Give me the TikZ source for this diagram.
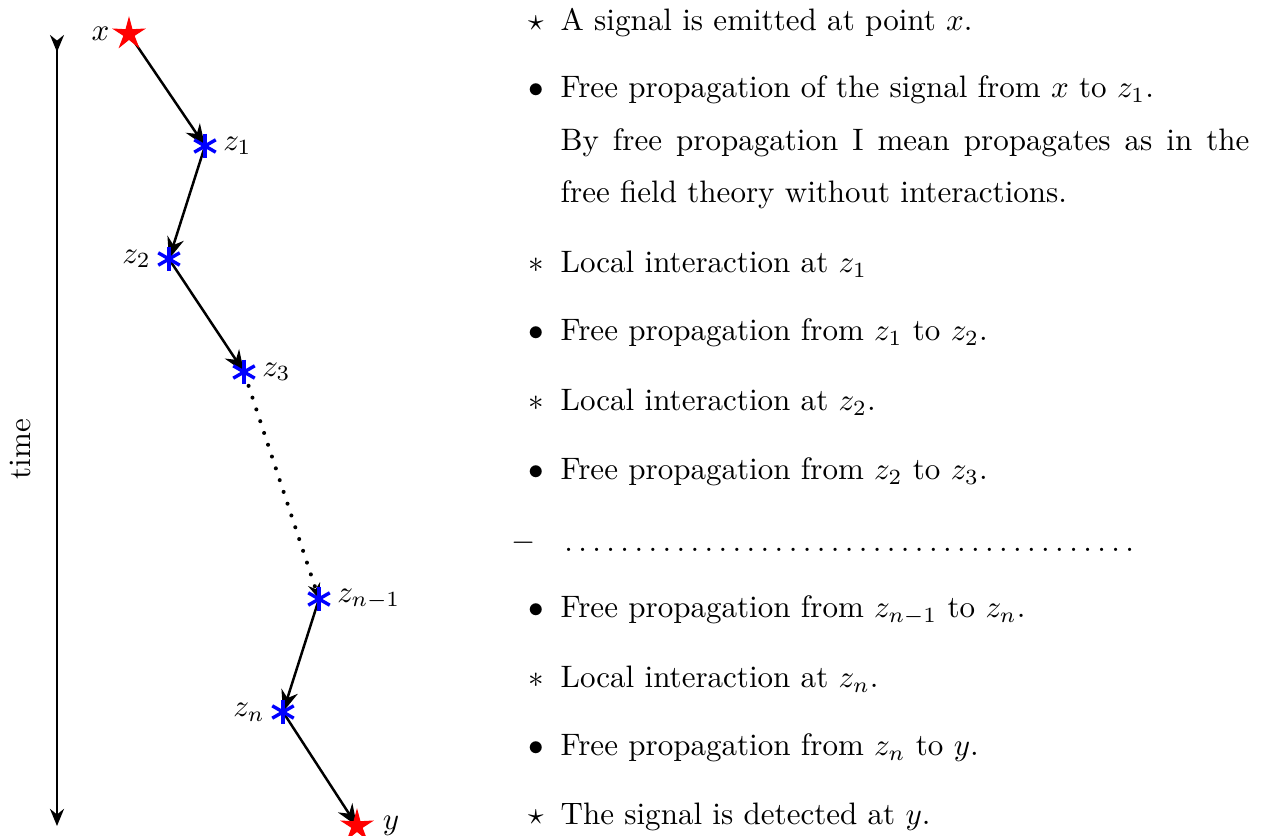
\documentclass[tikz,border=0pt]{standalone}
\usetikzlibrary{arrows.meta,positioning,shapes.geometric,backgrounds}
\tikzset{
  srcpt/.style={star,star points=5,star point ratio=3,fill=red,
    inner sep=0pt,minimum size=11.5pt},
  vertex/.style={circle,inner sep=0pt,minimum size=9pt,
    path picture={
      \foreach \a in {90,150,210}
        \draw[blue,line width=1.1pt] (path picture bounding box.center)
          ++(\a:4pt) -- ++(\a+180:8pt);
    }},
  vlabel/.style={inner sep=1pt},
  prop/.style={-{Stealth[length=7pt,width=5.5pt]},thick},
  dotprop/.style={-{Stealth[length=5pt,width=4pt]},line width=1.3pt,
    dash pattern=on 0pt off 4pt,line cap=round},
  timeax/.style={{Stealth[reversed,length=5.5pt,width=4.5pt]}-{Stealth[length=5.5pt,width=4.5pt]},thick},
  itemtext/.style={anchor=base west,inner sep=0pt},
  itemmark/.style={anchor=base,inner sep=0pt}
}
\begin{document}
\begin{tikzpicture}[x=0.3223pt,y=-0.3223pt]
  \useasboundingbox (0,0) rectangle (1263,836);

  % time axis
  \coordinate (ttop) at (57,35);
  \coordinate (tbot) at (57,826);
  \draw[timeax] (ttop) -- (tbot);
  \node[rotate=90] (time) at (20,449) {time};

  % propagation path
  \node[srcpt] (x) at (129,34) {};
  \node[vertex] (z1) at (205,146) {};
  \node[vertex] (z2) at (169,259) {};
  \node[vertex] (z3) at (244,372) {};
  \node[vertex] (zm) at (319,599) {};
  \node[vertex] (zn) at (283,712) {};
  \node[srcpt] (y) at (357,826) {};

  \node[vlabel,left=2pt of x] (lx) {$x$};
  \node[vlabel,right=0pt of z1] (lz1) {$z_1$};
  \node[vlabel,left=0pt of z2] (lz2) {$z_2$};
  \node[vlabel,right=0pt of z3] (lz3) {$z_3$};
  \node[vlabel,right=0pt of zm] (lzm) {$z_{n-1}$};
  \node[vlabel,left=0pt of zn] (lzn) {$z_n$};
  \node[vlabel,right=4pt of y] (ly) {$y$};

  \begin{pgfonlayer}{background}
    \draw[prop] (x.center) -- (z1.center);
    \draw[prop] (z1.center) -- (z2.center);
    \draw[prop] (z2.center) -- (z3.center);
    \draw[dotprop] (z3) -- (zm.center);
    \draw[prop] (zm.center) -- (zn.center);
    \draw[prop] (zn.center) -- (y.center);
  \end{pgfonlayer}

  % description
  \node[itemmark] (m1) at (536,31) {$\star$};
  \node[itemtext] (t1) at (560,31) {A signal is emitted at point $x$.};
  \node[itemmark] (m2) at (536,98) {$\bullet$};
  \node[itemtext] (t2) at (560,98) {Free propagation of the signal from $x$ to $z_1$.};
  \node[itemtext] (t2b) at (560,151) {\makebox[222pt][s]{By free propagation I mean propagates as in the}};
  \node[itemtext] (t2c) at (560,203) {free field theory without interactions.};
  \node[itemmark] (m3) at (536,273) {$\ast$};
  \node[itemtext] (t3) at (560,273) {Local interaction at $z_1$};
  \node[itemmark] (m4) at (536,341) {$\bullet$};
  \node[itemtext] (t4) at (560,341) {Free propagation from $z_1$ to $z_2$.};
  \node[itemmark] (m5) at (536,411) {$\ast$};
  \node[itemtext] (t5) at (560,411) {Local interaction at $z_2$.};
  \node[itemmark] (m6) at (536,480) {$\bullet$};
  \node[itemtext] (t6) at (560,480) {Free propagation from $z_2$ to $z_3$.};
  \node[itemmark] (m7) at (524,551) {$-$};
  \node[itemtext] (t7) at (560,552) {\hbox to 186pt{\cleaders\hbox to 4.52pt{\hss.\hss}\hfill}};
  \node[itemmark] (m8) at (536,618) {$\bullet$};
  \node[itemtext] (t8) at (560,618) {Free propagation from $z_{n-1}$ to $z_n$.};
  \node[itemmark] (m9) at (536,688) {$\ast$};
  \node[itemtext] (t9) at (560,688) {Local interaction at $z_n$.};
  \node[itemmark] (m10) at (536,756) {$\bullet$};
  \node[itemtext] (t10) at (560,756) {Free propagation from $z_n$ to $y$.};
  \node[itemmark] (m11) at (536,825) {$\star$};
  \node[itemtext] (t11) at (560,825) {The signal is detected at $y$.};
\end{tikzpicture}
\end{document}
